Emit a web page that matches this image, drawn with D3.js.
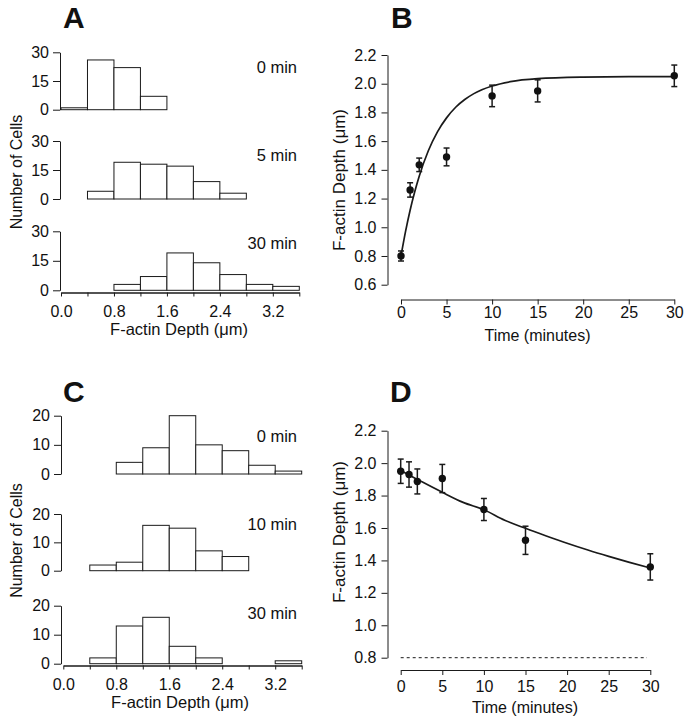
<!DOCTYPE html>
<html><head><meta charset="utf-8">
<script src="https://cdn.jsdelivr.net/npm/d3@7"></script>
<style>
body{margin:0;background:#fff}
svg text{font-family:"Liberation Sans",Arial,Helvetica,sans-serif;fill:#111}
</style>
</head><body>
<svg id="chart" width="686" height="720"></svg>
<script>
// ---------- DATA ----------
const binStarts = [0, 0.4, 0.8, 1.2, 1.6, 2.0, 2.4, 2.8, 3.2];
const binWidth = 0.4;
const histXTicks = [0, 0.4, 0.8, 1.2, 1.6, 2.0, 2.4, 2.8, 3.2, 3.6];
const histXLabelTicks = [0, 0.8, 1.6, 2.4, 3.2];

const histALabels = ["0 min", "5 min", "30 min"];
const histA0 = [1, 26, 22, 7, 0, 0, 0, 0, 0];
const histA5 = [0, 4, 19, 18, 17, 9, 3, 0, 0];
const histA30 = [0, 0, 3, 7, 19, 14, 8, 3, 2];
const histAYTicks = [0, 15, 30];

const histCLabels = ["0 min", "10 min", "30 min"];
const histC0 = [0, 0, 4, 9, 20, 10, 8, 3, 1];
const histC10 = [0, 2, 3, 16, 15, 7, 5, 0, 0];
const histC30 = [0, 2, 13, 16, 6, 2, 0, 0, 1];
const histCYTicks = [0, 10, 20];

const timeB = [0, 1, 2, 5, 10, 15, 30];
const depthB = [0.80, 1.26, 1.435, 1.49, 1.915, 1.95, 2.055];
const errB = [0.035, 0.05, 0.047, 0.062, 0.075, 0.077, 0.075];
const fitTimeB = [0, 0.5, 1, 1.5, 2, 3, 4, 5, 6, 7, 8, 10, 12, 15, 20, 25, 30];
const fitDepthB = [0.80, 0.971, 1.119, 1.246, 1.356, 1.533, 1.665, 1.762, 1.836, 1.89, 1.931, 1.984, 2.014, 2.035, 2.046, 2.049, 2.05];
const depthTicksB = [0.6, 0.8, 1.0, 1.2, 1.4, 1.6, 1.8, 2.0, 2.2];

const timeD = [0, 1, 2, 5, 10, 15, 30];
const depthD = [1.95, 1.93, 1.887, 1.905, 1.714, 1.524, 1.36];
const errD = [0.075, 0.078, 0.077, 0.087, 0.068, 0.087, 0.081];
const fitTimeD = [0, 2.5, 5, 7.5, 10, 12.5, 15, 17.5, 20, 22.5, 25, 27.5, 30];
const fitDepthD = [1.955, 1.886, 1.82, 1.758, 1.712, 1.648, 1.598, 1.551, 1.506, 1.464, 1.425, 1.388, 1.353];
const baselineTimeD = [0, 29.6];
const baselineDepthD = [0.8, 0.8];
const depthTicksD = [0.8, 1.0, 1.2, 1.4, 1.6, 1.8, 2.0, 2.2];

const timeTicks = [0, 5, 10, 15, 20, 25, 30];

// ---------- DRAW ----------
const svg = d3.select("#chart");
const INK = "#1a1a1a";
const fmt1 = d3.format(".1f");

function styleAxis(g) {
  g.selectAll("path.domain").attr("stroke", INK).attr("stroke-width", 1);
  g.selectAll(".tick line").attr("stroke", INK).attr("stroke-width", 1);
  g.selectAll(".tick text").attr("fill", INK)
    .style("font-family", '"Liberation Sans",Arial,Helvetica,sans-serif')
    .style("font-size", "16px");
}

function panelLetter(txt, x, y) {
  svg.append("text").attr("x", x).attr("y", y).text(txt)
    .style("font-size", "30px").style("font-weight", "bold");
}

function histPanel(cfg) {
  const x = d3.scaleLinear().domain([0, 3.6]).range(cfg.xRange);
  cfg.series.forEach((counts, i) => {
    const row = cfg.rows[i];
    const y = d3.scaleLinear().domain([0, cfg.yMax]).range([row[1], row[0]]);
    const bins = binStarts.map((b, j) => ({x0: b, x1: b + binWidth, n: counts[j]})).filter(d => d.n > 0);
    svg.append("g").selectAll("rect").data(bins).join("rect")
      .attr("x", d => x(d.x0)).attr("width", d => x(d.x1) - x(d.x0))
      .attr("y", d => y(d.n)).attr("height", d => y(0) - y(d.n))
      .attr("fill", "#fff").attr("stroke", INK).attr("stroke-width", 1);
    const ya = svg.append("g").attr("transform", `translate(${cfg.yAxisX},0)`)
      .call(d3.axisLeft(y).tickValues(cfg.yTicks).tickSize(7).tickSizeOuter(0).tickPadding(4).tickFormat(d3.format("d")));
    styleAxis(ya);
    svg.append("text").attr("x", cfg.labelX).attr("y", cfg.labelY[i])
      .attr("text-anchor", "end").style("font-size", "16.5px").text(cfg.labels[i]);
  });
  const xa = svg.append("g").attr("transform", `translate(0,${cfg.xAxisY})`)
    .call(d3.axisBottom(x).tickValues(histXTicks).tickSize(4).tickSizeOuter(0).tickPadding(9)
      .tickFormat(d => histXLabelTicks.some(v => Math.abs(v - d) < 1e-6) ? fmt1(d) : ""));
  styleAxis(xa);
  xa.select("path.domain").attr("stroke-width", 1.3);
  svg.append("text").attr("x", cfg.xTitleX).attr("y", cfg.xTitleY).attr("text-anchor", "middle")
    .style("font-size", "16.5px").text("F-actin Depth (\u03bcm)");
  svg.append("text").attr("transform", `translate(${cfg.yTitleX},${cfg.yTitleY}) rotate(-90)`)
    .attr("text-anchor", "middle").style("font-size", "16px").text("Number of Cells");
}

function timePanel(cfg) {
  const x = d3.scaleLinear().domain([0, 30]).range(cfg.xRange);
  const y = d3.scaleLinear().domain(cfg.yDomain).range(cfg.yRange);
  const ya = svg.append("g").attr("transform", `translate(${cfg.yAxisX},0)`)
    .call(d3.axisLeft(y).tickValues(cfg.yTicks).tickSize(6).tickSizeOuter(0).tickPadding(5).tickFormat(fmt1));
  styleAxis(ya);
  const xa = svg.append("g").attr("transform", `translate(0,${cfg.xAxisY})`)
    .call(d3.axisBottom(x).tickValues(timeTicks).tickSize(5).tickSizeOuter(0).tickPadding(cfg.xPad).tickFormat(d3.format("d")));
  styleAxis(xa);
  if (cfg.baseline) {
    const bl = cfg.baseline[0].map((t, i) => [t, cfg.baseline[1][i]]);
    svg.append("path").datum(bl)
      .attr("d", d3.line().x(d => x(d[0])).y(d => y(d[1])))
      .attr("fill", "none").attr("stroke", INK).attr("stroke-width", 1).attr("stroke-dasharray", "3,3");
  }
  const fit = cfg.fitT.map((t, i) => [t, cfg.fitY[i]]);
  svg.append("path").datum(fit)
    .attr("d", d3.line().curve(d3.curveMonotoneX).x(d => x(d[0])).y(d => y(d[1])))
    .attr("fill", "none").attr("stroke", INK).attr("stroke-width", 1.7);
  const pts = cfg.t.map((t, i) => ({t, v: cfg.v[i], e: cfg.e[i]}));
  const g = svg.append("g");
  const eb = g.selectAll("g.eb").data(pts).join("g").attr("class", "eb");
  eb.append("line").attr("x1", d => x(d.t)).attr("x2", d => x(d.t))
    .attr("y1", d => y(d.v - d.e)).attr("y2", d => y(d.v + d.e)).attr("stroke", INK).attr("stroke-width", 1.5);
  [-1, 1].forEach(s => {
    eb.append("line").attr("x1", d => x(d.t) - 3).attr("x2", d => x(d.t) + 3)
      .attr("y1", d => y(d.v + s * d.e)).attr("y2", d => y(d.v + s * d.e)).attr("stroke", INK).attr("stroke-width", 1.5);
  });
  eb.append("circle").attr("cx", d => x(d.t)).attr("cy", d => y(d.v)).attr("r", 3.7).attr("fill", "#111");
  svg.append("text").attr("x", cfg.xTitleX).attr("y", cfg.xTitleY).attr("text-anchor", "middle")
    .style("font-size", "16px").text("Time (minutes)");
  svg.append("text").attr("transform", `translate(${cfg.yTitleX},${cfg.yTitleY}) rotate(-90)`)
    .attr("text-anchor", "middle").style("font-size", "17px").text("F-actin Depth (\u03bcm)");
}

// Panel A
panelLetter("A", 63, 28);
histPanel({
  series: [histA0, histA5, histA30], labels: histALabels, yMax: 30, yTicks: histAYTicks,
  rows: [[52.3, 109.7], [141, 199], [231.3, 290.3]],
  xRange: [61, 299.3], yAxisX: 60, xAxisY: 292.5,
  labelX: 297, labelY: [73, 160.5, 249],
  xTitleX: 179, xTitleY: 335, yTitleX: 22, yTitleY: 172
});

// Panel B
panelLetter("B", 391, 28);
timePanel({
  t: timeB, v: depthB, e: errB, fitT: fitTimeB, fitY: fitDepthB,
  xRange: [401, 674.3], yDomain: [0.6, 2.2], yRange: [284.7, 55], yTicks: depthTicksB,
  yAxisX: 387.5, xAxisY: 299.5, xPad: 2.5,
  xTitleX: 537.5, xTitleY: 340.5, yTitleX: 345, yTitleY: 180
});

// Panel C
panelLetter("C", 63, 401.7);
histPanel({
  series: [histC0, histC10, histC30], labels: histCLabels, yMax: 20, yTicks: histCYTicks,
  rows: [[415.7, 474], [514, 570.7], [605.7, 663.7]],
  xRange: [63.3, 301.7], yAxisX: 61, xAxisY: 665.5,
  labelX: 297, labelY: [442.3, 530, 619],
  xTitleX: 180, xTitleY: 708, yTitleX: 22, yTitleY: 540.5
});

// Panel D
panelLetter("D", 390, 401.7);
timePanel({
  t: timeD, v: depthD, e: errD, fitT: fitTimeD, fitY: fitDepthD,
  baseline: [baselineTimeD, baselineDepthD],
  xRange: [400.7, 650.3], yDomain: [0.8, 2.2], yRange: [657.7, 430.7], yTicks: depthTicksD,
  yAxisX: 387.5, xAxisY: 670, xPad: 6,
  xTitleX: 525, xTitleY: 713, yTitleX: 345, yTitleY: 532
});
</script>
</body></html>
